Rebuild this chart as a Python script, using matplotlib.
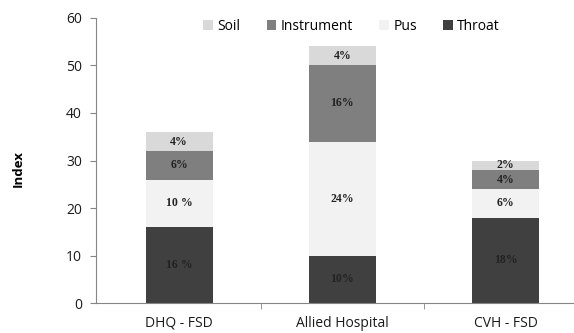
import matplotlib.pyplot as plt
import numpy as np

categories = ["DHQ - FSD", "Allied Hospital", "CVH - FSD"]
series = ["Throat", "Pus", "Instrument", "Soil"]
throat = [16, 10, 18]
pus = [10, 24, 6]
instrument = [6, 16, 4]
soil = [4, 4, 2]
labels = {
    "Throat": ["16 %", "10%", "18%"],
    "Pus": ["10 %", "24%", "6%"],
    "Instrument": ["6%", "16%", "4%"],
    "Soil": ["4%", "4%", "2%"],
}
colors = {"Throat": "#404040", "Pus": "#f2f2f2", "Instrument": "#7f7f7f", "Soil": "#d9d9d9"}

values = {"Throat": throat, "Pus": pus, "Instrument": instrument, "Soil": soil}

fig = plt.figure(figsize=(5.74, 3.33), dpi=100)
ax = fig.add_axes([0.167, 0.09, 0.833, 0.856])

x = np.arange(len(categories))
bottom = np.zeros(len(categories))
handles = {}
for name in series:
    vals = np.array(values[name])
    bars = ax.bar(x, vals, width=0.41, bottom=bottom, color=colors[name], label=name)
    handles[name] = bars
    for xi, b, v, t in zip(x, bottom, vals, labels[name]):
        ax.text(xi, b + v / 2, t, ha="center", va="center", fontsize=8.5,
                fontweight="bold", family="Liberation Serif", color="#222222")
    bottom += vals

ax.set_xlim(-0.51, 2.42)
ax.set_ylim(0, 60)
ax.set_yticks(range(0, 61, 10))
ax.set_xticks(x)
ax.set_xticklabels(categories)
ax.set_xticks([0.5, 1.5], minor=True)
ax.tick_params(axis="x", which="major", length=0, pad=9)
ax.tick_params(axis="x", which="minor", length=4, color="#868686")
ax.tick_params(axis="y", length=4, color="#868686", pad=6)
for lab in ax.get_xticklabels() + ax.get_yticklabels():
    lab.set_family("Open Sans")
    lab.set_fontsize(10)
    lab.set_color("#1a1a1a")

for s in ["top", "right"]:
    ax.spines[s].set_visible(False)
for s in ["left", "bottom"]:
    ax.spines[s].set_color("#868686")

ax.set_ylabel("Index", fontsize=9.5, fontweight="bold", family="Open Sans")
ax.yaxis.set_label_coords(-0.148, 0.47)

order = ["Soil", "Instrument", "Pus", "Throat"]
ax.legend([handles[n] for n in order], order, loc="upper center", ncol=4,
          frameon=False, bbox_to_anchor=(0.535, 1.04), handlelength=0.7,
          handleheight=0.7, handletextpad=0.3, columnspacing=1.9,
          prop={"family": "Open Sans", "size": 10})

fig.savefig("out.png", dpi=100)
